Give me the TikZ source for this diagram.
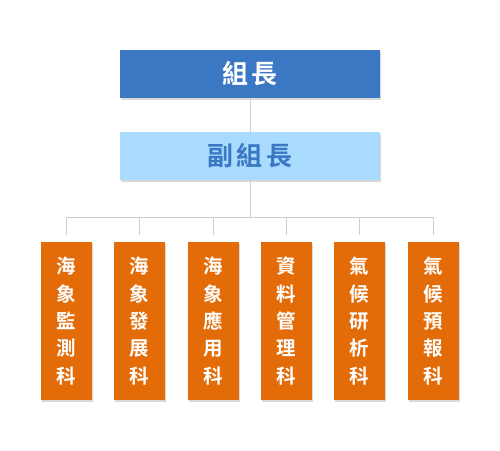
\documentclass[tikz,border=0pt]{standalone}
\usepackage{fontspec}
\newfontfamily\cjk{Noto Sans CJK TC}[BoldFont={Noto Sans CJK TC Bold}]
\usetikzlibrary{shadows}
\definecolor{chiefblue}{HTML}{3A78C3}
\definecolor{deputyblue}{HTML}{A9DBFF}
\definecolor{sectionorange}{HTML}{E36C09}
\definecolor{linkgray}{HTML}{CDCDCD}
\tikzset{
  chief/.style={fill=chiefblue, text=white, minimum width=260pt, minimum height=48pt,
    font=\cjk\bfseries\fontsize{26pt}{30pt}\selectfont, inner sep=0pt,
    drop shadow={shadow xshift=1pt, shadow yshift=-1.5pt, opacity=0.3}},
  deputy/.style={chief, fill=deputyblue, text=chiefblue},
  section/.style={fill=sectionorange, text=white, minimum width=51pt, minimum height=158pt,
    font=\cjk\bfseries\fontsize{19.5pt}{27.3pt}\selectfont, align=center, inner sep=0pt,
    drop shadow={shadow xshift=1pt, shadow yshift=-1.5pt, opacity=0.3}},
  link/.style={draw=linkgray, line width=0.9pt}
}
\begin{document}
\begin{tikzpicture}[x=1pt, y=-1pt]
                \useasboundingbox (0,0) rectangle (500,450);

                % Draw leaders
                \node[chief] (leader) at (250,74) {組\hspace{4pt}長};
                \node[deputy] (deputy) at (250,156) {副\hspace{4pt}組\hspace{4pt}長};

                % Draw sections
                \node[section] (ocmon) at (66.5,321) {海\\象\\監\\測\\科};
                \node[section] (ocdev) at (139.5,321) {海\\象\\發\\展\\科};
                \node[section] (ocapp) at (213.5,321) {海\\象\\應\\用\\科};
                \node[section] (datamg) at (286.5,321) {資\\料\\管\\理\\科};
                \node[section] (climres) at (359.5,321) {氣\\候\\研\\析\\科};
                \node[section] (climfc) at (433.5,321) {氣\\候\\預\\報\\科};

                % Branch line above the sections
                \coordinate (bus) at (250,217);
                \coordinate (busL) at (ocmon |- bus);
                \coordinate (busR) at (climfc |- bus);

                % Draw connectors
                \draw[link] (leader) -- (deputy);
                \draw[link] (deputy) -- (bus);
                \draw[link] (busL) -- (busR);
                \draw[link] (busL) -- ([yshift=7pt]ocmon.north);
                \draw[link] (ocdev |- bus) -- ([yshift=7pt]ocdev.north);
                \draw[link] (ocapp |- bus) -- ([yshift=7pt]ocapp.north);
                \draw[link] (datamg |- bus) -- ([yshift=7pt]datamg.north);
                \draw[link] (climres |- bus) -- ([yshift=7pt]climres.north);
                \draw[link] (busR) -- ([yshift=7pt]climfc.north);
            \end{tikzpicture}
\end{document}
